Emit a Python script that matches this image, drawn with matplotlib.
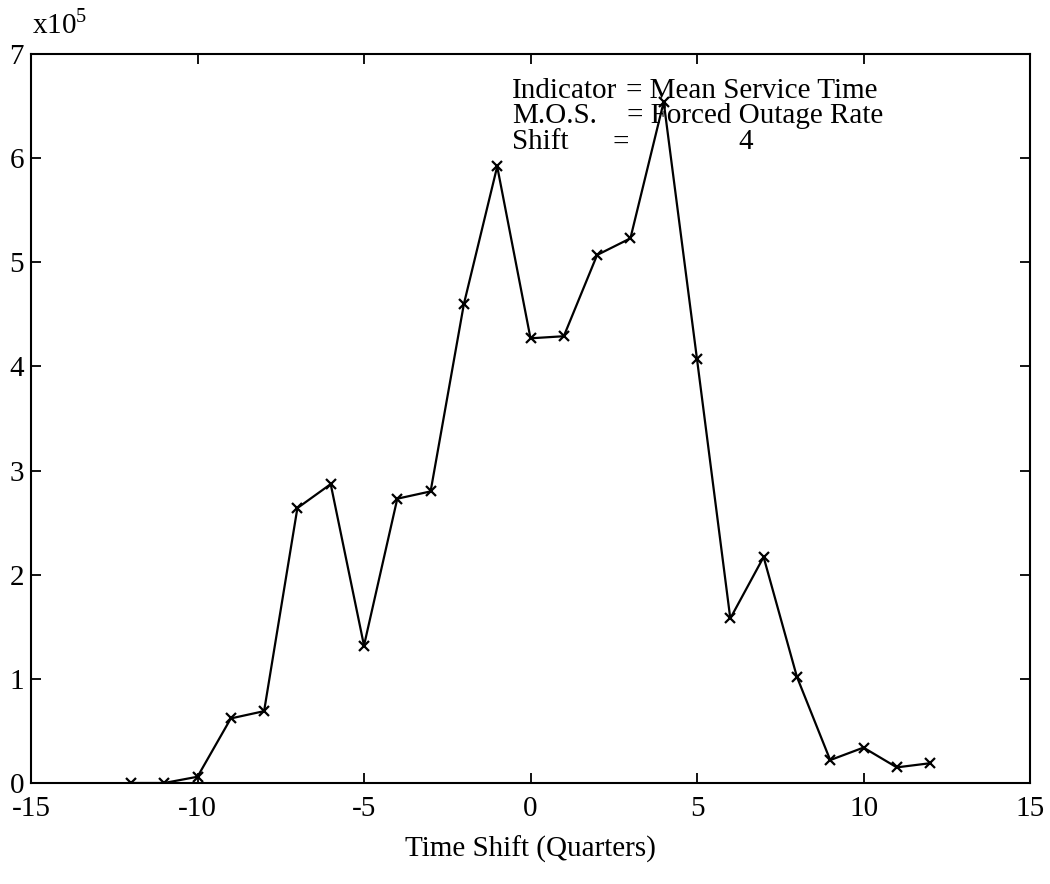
import matplotlib
matplotlib.use("Agg")
import matplotlib.pyplot as plt

plt.rcParams['font.family'] = ['Liberation Serif', 'DejaVu Serif']
plt.rcParams['mathtext.fontset'] = 'custom'
plt.rcParams['mathtext.rm'] = 'Liberation Serif'
plt.rcParams['axes.unicode_minus'] = False

# Data (values in units of 1e5)
time_shift = [-12, -11, -10, -9, -8, -7, -6, -5, -4, -3, -2, -1, 0, 1, 2, 3, 4, 5, 6, 7, 8, 9, 10, 11, 12]
values = [0.0, 0.0, 0.06, 0.62, 0.69, 2.64, 2.87, 1.32, 2.73, 2.80, 4.60, 5.92, 4.27, 4.29, 5.07,
          5.23, 6.54, 4.07, 1.58, 2.17, 1.02, 0.22, 0.34, 0.15, 0.19]
x_ticks = [-15, -10, -5, 0, 5, 10, 15]
y_ticks = [0, 1, 2, 3, 4, 5, 6, 7]

fig = plt.figure(figsize=(10.5, 8.84), dpi=100)
ax = fig.add_axes([31/1050, 1 - 783/884, 999/1050, 729/884])

ax.plot(time_shift, values, color='black', lw=1.6, marker='x', markersize=7,
        markeredgewidth=1.6)

ax.set_xlim(-15, 15)
ax.set_ylim(0, 7)
ax.set_xticks(x_ticks)
ax.set_yticks(y_ticks)
ax.tick_params(direction='in', length=7, width=1.3, top=True, right=True,
               labelsize=21, colors='black')
ax.tick_params(axis='x', pad=9)
ax.tick_params(axis='y', pad=5)
for s in ax.spines.values():
    s.set_linewidth(1.5)

ax.set_xlabel('Time Shift (Quarters)', fontsize=21, labelpad=10)

fig.text(32/1050, 1 - 33/884, 'x10$^{5}$', fontsize=21, ha='left', va='baseline')

fs = 21
ax.text(0.4815, 0.94, 'Indicator', transform=ax.transAxes, fontsize=fs, va='baseline')
ax.text(0.596, 0.94, '= Mean Service Time', transform=ax.transAxes, fontsize=fs, va='baseline')
ax.text(0.4815, 0.905, 'M.O.S.', transform=ax.transAxes, fontsize=fs, va='baseline')
ax.text(0.597, 0.905, '= Forced Outage Rate', transform=ax.transAxes, fontsize=fs, va='baseline')
ax.text(0.4815, 0.869, 'Shift', transform=ax.transAxes, fontsize=fs, va='baseline')
ax.text(0.582, 0.869, '=', transform=ax.transAxes, fontsize=fs, va='baseline')
ax.text(0.708, 0.869, '4', transform=ax.transAxes, fontsize=fs, va='baseline')

fig.savefig('out.png', dpi=100)
